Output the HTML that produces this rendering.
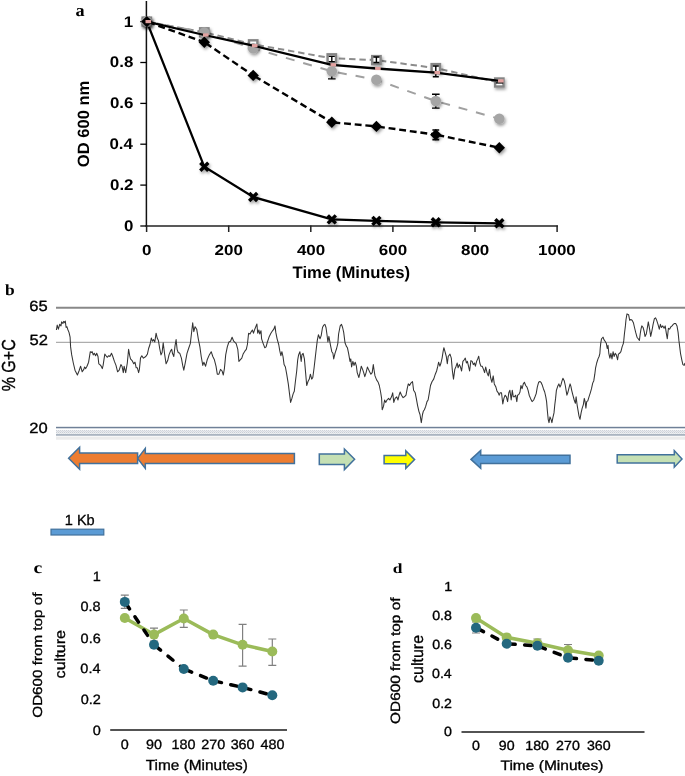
<!DOCTYPE html>
<html><head><meta charset="utf-8"><style>
html,body{margin:0;padding:0;background:#fff;}
body{width:685px;height:776px;overflow:hidden;font-family:"Liberation Sans",sans-serif;}
svg{display:block;will-change:transform;text-rendering:geometricPrecision;}
</style></head><body>
<svg width="685" height="776" viewBox="0 0 685 776">
<defs>
<filter id="sh" x="-50%" y="-50%" width="200%" height="200%"><feDropShadow dx="1.2" dy="2" stdDeviation="1.4" flood-color="#000" flood-opacity="0.38"/></filter>
<pattern id="hatch" x="56" y="430.1" width="2" height="2" patternUnits="userSpaceOnUse"><rect width="2" height="2" fill="#eceef1"/><rect width="1" height="1" fill="#c6cbd3"/><rect x="1" y="1" width="1" height="1" fill="#d3d7dd"/></pattern>
</defs>
<rect width="685" height="776" fill="#fff"/>
<g id="pa">
<line x1="146.4" y1="1" x2="146.4" y2="226.8" stroke="#111" stroke-width="1.5"/>
<line x1="145.6" y1="226.0" x2="557.9" y2="226.0" stroke="#222" stroke-width="1.7"/>
<line x1="140.3" y1="226.0" x2="146.6" y2="226.0" stroke="#000" stroke-width="1.3"/>
<line x1="140.3" y1="185.1" x2="146.6" y2="185.1" stroke="#000" stroke-width="1.3"/>
<line x1="140.3" y1="144.2" x2="146.6" y2="144.2" stroke="#000" stroke-width="1.3"/>
<line x1="140.3" y1="103.4" x2="146.6" y2="103.4" stroke="#000" stroke-width="1.3"/>
<line x1="140.3" y1="62.5" x2="146.6" y2="62.5" stroke="#000" stroke-width="1.3"/>
<line x1="140.3" y1="21.6" x2="146.6" y2="21.6" stroke="#000" stroke-width="1.3"/>
<line x1="146.6" y1="225.5" x2="146.6" y2="232" stroke="#222" stroke-width="1.5"/>
<line x1="228.7" y1="225.5" x2="228.7" y2="232" stroke="#222" stroke-width="1.5"/>
<line x1="310.8" y1="225.5" x2="310.8" y2="232" stroke="#222" stroke-width="1.5"/>
<line x1="392.9" y1="225.5" x2="392.9" y2="232" stroke="#222" stroke-width="1.5"/>
<line x1="475.0" y1="225.5" x2="475.0" y2="232" stroke="#222" stroke-width="1.5"/>
<line x1="557.1" y1="225.5" x2="557.1" y2="232" stroke="#222" stroke-width="1.5"/>
<text transform="translate(124.10,230.90) scale(1.1004,1)" font-family="Liberation Sans" font-weight="bold" font-size="15.35" fill="#000">0</text>
<text transform="translate(109.99,190.02) scale(1.1004,1)" font-family="Liberation Sans" font-weight="bold" font-size="15.35" fill="#000">0.2</text>
<text transform="translate(109.40,149.14) scale(1.1004,1)" font-family="Liberation Sans" font-weight="bold" font-size="15.35" fill="#000">0.4</text>
<text transform="translate(109.91,108.26) scale(1.1004,1)" font-family="Liberation Sans" font-weight="bold" font-size="15.35" fill="#000">0.6</text>
<text transform="translate(109.82,67.38) scale(1.1004,1)" font-family="Liberation Sans" font-weight="bold" font-size="15.35" fill="#000">0.8</text>
<text transform="translate(123.85,26.50) scale(1.1004,1)" font-family="Liberation Sans" font-weight="bold" font-size="15.35" fill="#000">1</text>
<text transform="translate(141.89,255.40) scale(1.1593,1)" font-family="Liberation Sans" font-weight="bold" font-size="14.65" fill="#000">0</text>
<text transform="translate(214.61,255.40) scale(1.1593,1)" font-family="Liberation Sans" font-weight="bold" font-size="14.65" fill="#000">200</text>
<text transform="translate(296.88,255.40) scale(1.1593,1)" font-family="Liberation Sans" font-weight="bold" font-size="14.65" fill="#000">400</text>
<text transform="translate(378.81,255.40) scale(1.1593,1)" font-family="Liberation Sans" font-weight="bold" font-size="14.65" fill="#000">600</text>
<text transform="translate(460.95,255.40) scale(1.1593,1)" font-family="Liberation Sans" font-weight="bold" font-size="14.65" fill="#000">800</text>
<text transform="translate(538.00,255.40) scale(1.1593,1)" font-family="Liberation Sans" font-weight="bold" font-size="14.65" fill="#000">1000</text>
<text transform="translate(292.53,277.80) scale(1.0021,1)" font-family="Liberation Sans" font-weight="bold" font-size="16.68" fill="#000">Time (Minutes)</text>
<text transform="translate(88.94,167.26) rotate(-90) scale(1.0149,1)" font-family="Liberation Sans" font-weight="bold" font-size="16.34" fill="#000">OD 600 nm</text>
<text transform="translate(75.45,16.43) scale(1.0678,1)" font-family="Liberation Serif" font-weight="bold" font-size="17.08" fill="#000">a</text>
<polyline points="146.8,21.6 204.3,166.8 253.2,197.0 331.8,219.4 376.4,220.9 435.8,222.3 499.3,223.3" fill="none" stroke="#000" stroke-width="2.3"/>
<g filter="url(#sh)">
<path d="M142.8 17.6 L150.8 25.6 M150.8 17.6 L142.8 25.6" stroke="#000" stroke-width="3.4"/>
<path d="M200.3 162.8 L208.3 170.8 M208.3 162.8 L200.3 170.8" stroke="#000" stroke-width="3.4"/>
<path d="M249.2 193.0 L257.2 201.0 M257.2 193.0 L249.2 201.0" stroke="#000" stroke-width="3.4"/>
<path d="M327.8 215.4 L335.8 223.4 M335.8 215.4 L327.8 223.4" stroke="#000" stroke-width="3.4"/>
<path d="M372.4 216.9 L380.4 224.9 M380.4 216.9 L372.4 224.9" stroke="#000" stroke-width="3.4"/>
<path d="M431.8 218.3 L439.8 226.3 M439.8 218.3 L431.8 226.3" stroke="#000" stroke-width="3.4"/>
<path d="M495.3 219.3 L503.3 227.3 M503.3 219.3 L495.3 227.3" stroke="#000" stroke-width="3.4"/>
</g>
<polyline points="146.8,21.6 204.3,32.3 253.2,44.3 331.8,58.3 376.4,60.1 435.8,68.1 499.3,82.5" fill="none" stroke="#8c8c8c" stroke-width="2" stroke-dasharray="6.4 3.9"/>
<g filter="url(#sh)">
<rect x="142.6" y="17.6" width="8.4" height="8.0" fill="#fff" stroke="#858585" stroke-width="2.4"/>
<rect x="200.1" y="28.3" width="8.4" height="8.0" fill="#fff" stroke="#858585" stroke-width="2.4"/>
<rect x="249.0" y="40.3" width="8.4" height="8.0" fill="#fff" stroke="#858585" stroke-width="2.4"/>
<rect x="327.6" y="54.3" width="8.4" height="8.0" fill="#fff" stroke="#858585" stroke-width="2.4"/>
<rect x="372.2" y="56.1" width="8.4" height="8.0" fill="#fff" stroke="#858585" stroke-width="2.4"/>
<rect x="431.6" y="64.1" width="8.4" height="8.0" fill="#fff" stroke="#858585" stroke-width="2.4"/>
<rect x="495.1" y="78.5" width="8.4" height="8.0" fill="#fff" stroke="#858585" stroke-width="2.4"/>
</g>
<path d="M331.8 56.4 V61.6 M328.8 56.4 H334.8 M328.8 61.6 H334.8" stroke="#000" stroke-width="1.4" fill="none"/>
<path d="M376.4 57.0 V62.5 M373.4 57.0 H379.4 M373.4 62.5 H379.4" stroke="#000" stroke-width="1.4" fill="none"/>
<path d="M435.8 66.0 V76.7 M432.8 66.0 H438.8 M432.8 76.7 H438.8" stroke="#000" stroke-width="1.4" fill="none"/>
<path d="M495.8 82.9 H503.2" stroke="#000" stroke-width="1.4"/>
<polyline points="146.8,21.6 204.3,32.5 253.2,48.3 331.8,71.3 376.4,79.8 435.8,101.1 499.3,118.8" fill="none" stroke="#a0a0a0" stroke-width="2" stroke-dasharray="9 9"/>
<path d="M331.8 70 V78.9 M328.0 70 H335.6 M328.0 78.9 H335.6" stroke="#000" stroke-width="1.4" fill="none"/>
<path d="M435.8 94.2 V108.1 M432.0 94.2 H439.6 M432.0 108.1 H439.6" stroke="#000" stroke-width="1.4" fill="none"/>
<g filter="url(#sh)">
<circle cx="146.8" cy="21.6" r="5.3" fill="#a5a5a5"/>
<circle cx="204.3" cy="32.5" r="5.3" fill="#a5a5a5"/>
<circle cx="253.2" cy="48.3" r="5.3" fill="#a5a5a5"/>
<circle cx="331.8" cy="71.3" r="5.3" fill="#a5a5a5"/>
<circle cx="376.4" cy="79.8" r="5.3" fill="#a5a5a5"/>
<circle cx="435.8" cy="101.1" r="5.3" fill="#a5a5a5"/>
<circle cx="499.3" cy="118.8" r="5.3" fill="#a5a5a5"/>
</g>
<line x1="146.8" y1="21.6" x2="204.3" y2="42.2" stroke="#000" stroke-width="2.4" stroke-dasharray="6.9 3.8" stroke-dashoffset="-1.6"/>
<line x1="204.3" y1="42.2" x2="253.2" y2="75.4" stroke="#000" stroke-width="2.4" stroke-dasharray="6.9 3.8" stroke-dashoffset="-1.6"/>
<line x1="253.2" y1="75.4" x2="331.8" y2="122.3" stroke="#000" stroke-width="2.4" stroke-dasharray="6.9 3.8" stroke-dashoffset="-1.6"/>
<line x1="331.8" y1="122.3" x2="376.4" y2="126.4" stroke="#000" stroke-width="2.4" stroke-dasharray="6.9 3.8" stroke-dashoffset="-1.6"/>
<line x1="376.4" y1="126.4" x2="435.8" y2="134.7" stroke="#000" stroke-width="2.4" stroke-dasharray="6.9 3.8" stroke-dashoffset="-1.6"/>
<line x1="435.8" y1="134.7" x2="499.3" y2="147.7" stroke="#000" stroke-width="2.4" stroke-dasharray="6.9 3.8" stroke-dashoffset="-1.6"/>
<path d="M435.8 130.0 V139.6 M432.4 130.0 H439.2 M432.4 139.6 H439.2" stroke="#000" stroke-width="1.6" fill="none"/>
<g filter="url(#sh)">
<path d="M146.8 15.9 L152.5 21.6 L146.8 27.3 L141.1 21.6Z" fill="#000"/>
<path d="M204.3 36.5 L210.0 42.2 L204.3 47.9 L198.6 42.2Z" fill="#000"/>
<path d="M253.2 69.7 L258.9 75.4 L253.2 81.1 L247.5 75.4Z" fill="#000"/>
<path d="M331.8 116.6 L337.5 122.3 L331.8 128.0 L326.1 122.3Z" fill="#000"/>
<path d="M376.4 120.7 L382.1 126.4 L376.4 132.1 L370.7 126.4Z" fill="#000"/>
<path d="M435.8 129.0 L441.5 134.7 L435.8 140.4 L430.1 134.7Z" fill="#000"/>
<path d="M499.3 142.0 L505.0 147.7 L499.3 153.4 L493.6 147.7Z" fill="#000"/>
</g>
<polyline points="146.8,21.6 204.3,35.0 253.2,45.7 331.8,64.8 376.4,68.5 435.8,72.6 499.3,80.9" fill="none" stroke="#000" stroke-width="2.3"/>
<rect x="145.5" y="20.0" width="5.6" height="3.2" fill="#e3a19f"/>
<rect x="203.0" y="33.4" width="5.6" height="3.2" fill="#e3a19f"/>
<rect x="251.9" y="44.1" width="5.6" height="3.2" fill="#e3a19f"/>
<rect x="330.5" y="63.2" width="5.6" height="3.2" fill="#e3a19f"/>
<rect x="375.1" y="66.9" width="5.6" height="3.2" fill="#e3a19f"/>
<rect x="434.5" y="71.0" width="5.6" height="3.2" fill="#e3a19f"/>
<rect x="498.0" y="79.3" width="5.6" height="3.2" fill="#e3a19f"/>
</g>
<g id="pb">
<text transform="translate(5.04,295.24) scale(1.1152,1)" font-family="Liberation Serif" font-weight="bold" font-size="15.60" fill="#000">b</text>
<line x1="56" y1="307.7" x2="685" y2="307.7" stroke="#888" stroke-width="1.9"/>
<line x1="56" y1="342.3" x2="685" y2="342.3" stroke="#999" stroke-width="1"/>
<rect x="56" y="426.8" width="629" height="1.5" fill="#6f8097"/>
<rect x="56" y="430.1" width="629" height="3.6" fill="url(#hatch)"/>
<rect x="56" y="434" width="629" height="1.8" fill="#aab4c0"/>
<rect x="56" y="436.6" width="629" height="3.1" fill="#ececec"/>
<text transform="translate(29.27,311.20) scale(1.1204,1)" font-family="Liberation Sans" font-weight="normal" font-size="14.79" fill="#000" stroke="#000" stroke-width="0.32">65</text>
<text transform="translate(29.44,345.20) scale(1.1204,1)" font-family="Liberation Sans" font-weight="normal" font-size="14.79" fill="#000" stroke="#000" stroke-width="0.32">52</text>
<text transform="translate(29.27,433.20) scale(1.1204,1)" font-family="Liberation Sans" font-weight="normal" font-size="14.79" fill="#000" stroke="#000" stroke-width="0.32">20</text>
<text transform="translate(15.11,391.36) rotate(-90) scale(0.8511,1)" font-family="Liberation Sans" font-weight="normal" font-size="18.87" fill="#000" stroke="#000" stroke-width="0.32">% G+C</text>
<polyline points="56.4,330.0 57.2,325.1 58.4,329.2 59.7,324.3 61.0,325.9 61.6,321.9 62.9,323.5 63.7,321.4 64.8,322.7 65.3,321.1 66.1,327.5 66.9,326.7 67.7,329.2 69.0,332.4 70.1,337.2 70.6,346.9 71.7,354.9 73.3,363.0 75.0,370.2 77.4,375.0 79.0,371.0 80.6,366.2 82.2,371.8 83.8,369.4 84.6,367.0 85.7,368.6 87.0,366.2 88.6,362.2 90.3,351.7 91.5,352.5 92.2,351.7 93.2,354.9 94.3,353.3 95.6,355.7 96.7,353.3 98.0,356.5 98.8,363.8 99.9,364.6 101.2,366.2 102.3,368.6 103.1,365.4 104.8,354.1 106.0,355.7 107.2,357.3 108.8,355.7 109.9,356.5 111.5,353.3 112.8,356.5 114.4,361.4 116.0,365.4 117.6,371.8 119.2,370.2 120.9,364.6 122.0,366.2 123.3,372.6 124.1,366.2 125.7,372.6 127.3,363.0 128.6,349.3 129.7,355.7 130.5,358.9 132.1,360.6 133.7,363.8 135.0,362.2 136.2,367.8 137.4,367.8 138.6,372.6 139.4,369.4 140.5,358.1 141.8,355.7 143.4,358.1 145.8,356.5 147.4,354.1 148.6,348.5 150.0,344.5 151.3,338.0 152.4,341.2 153.5,339.6 154.8,342.0 156.1,333.2 157.2,338.0 158.4,340.4 159.7,348.5 161.0,354.9 162.1,352.5 163.2,342.8 164.5,353.3 166.1,363.8 167.7,360.6 169.0,354.9 170.6,350.9 171.7,349.3 172.5,353.3 173.8,356.5 175.0,346.1 176.1,339.6 177.1,349.3 178.2,352.5 179.8,353.3 181.4,358.1 182.7,365.4 183.8,370.2 185.4,362.2 187.0,353.3 188.6,348.5 190.3,343.6 191.5,333.2 192.7,322.7 193.8,331.6 195.1,326.7 196.7,329.2 198.3,338.8 199.9,346.9 201.2,356.5 202.8,365.4 203.9,362.2 205.6,366.2 207.2,359.8 209.3,354.9 211.2,351.7 212.8,356.5 214.4,359.8 216.0,366.2 217.3,374.2 218.9,374.2 220.5,369.4 222.1,371.0 223.3,375.0 224.4,368.6 225.7,354.9 227.3,346.9 228.9,342.0 230.5,341.2 232.1,337.2 233.7,341.2 236.2,343.6 237.8,349.3 238.9,361.4 240.2,359.8 241.8,358.1 243.1,354.1 245.0,350.9 246.3,349.3 247.4,344.5 248.6,333.2 250.0,334.0 251.3,331.6 252.4,330.0 253.5,333.2 254.8,329.2 256.1,325.9 256.9,324.0 257.7,333.2 258.9,330.0 259.7,334.0 261.0,330.8 261.6,338.8 263.2,343.6 264.8,347.7 266.1,346.9 267.4,342.0 269.3,336.4 270.9,333.2 272.5,330.8 273.8,329.2 275.0,325.9 275.8,332.4 277.1,338.8 278.7,344.5 279.8,350.9 280.9,355.7 281.9,351.7 283.0,356.5 284.1,364.6 285.4,367.0 286.7,374.2 288.3,383.9 289.5,393.6 290.6,402.4 291.9,398.4 293.2,393.6 294.3,391.2 295.4,381.5 296.7,371.0 297.7,359.8 298.6,354.9 299.9,351.7 301.2,361.4 301.9,354.9 303.1,353.3 304.4,358.9 305.6,372.6 306.7,385.5 308.0,381.5 309.3,379.1 310.4,374.2 311.7,379.1 312.8,377.5 314.1,367.8 315.2,358.1 316.3,348.5 317.3,340.4 318.4,334.8 320.0,338.8 321.2,335.6 322.5,327.5 323.8,325.1 324.9,324.3 326.0,327.5 327.0,334.8 327.9,342.0 328.9,336.4 330.5,345.3 331.8,351.7 332.9,353.3 333.7,358.9 335.0,353.3 336.6,348.5 337.8,343.6 338.6,334.0 340.2,325.9 341.5,324.3 342.6,327.5 343.7,332.4 345.0,342.8 346.3,346.1 347.4,347.7 348.6,353.3 350.0,361.4 350.8,358.9 351.6,367.0 352.9,361.4 354.0,365.4 355.2,362.2 356.4,366.2 357.2,372.6 358.9,377.5 360.0,372.6 361.3,366.2 362.6,369.4 363.7,372.6 364.8,376.7 366.1,372.6 367.4,367.0 368.5,369.4 369.6,371.8 370.9,374.2 372.2,372.6 373.3,364.6 374.2,371.0 375.0,375.9 376.6,379.9 378.2,382.3 379.3,385.5 380.6,392.0 381.6,398.4 382.2,409.7 383.5,406.4 384.6,400.0 385.7,402.4 387.0,400.0 388.6,398.4 389.9,400.0 391.5,396.8 392.7,392.8 393.8,402.4 395.1,398.4 396.7,396.8 398.0,400.0 399.1,395.2 400.2,392.0 401.5,395.2 403.1,397.6 404.4,396.8 406.0,395.2 407.2,388.7 408.3,383.9 409.6,385.5 410.9,383.1 412.5,381.5 413.6,390.3 415.2,392.8 416.3,398.4 417.6,405.6 418.9,411.3 420.0,414.5 421.3,422.6 422.5,414.5 423.3,411.3 424.4,409.7 425.7,406.4 427.0,401.6 428.1,400.0 429.2,393.6 430.5,385.5 432.1,381.5 433.7,379.1 435.3,374.2 436.6,371.0 437.8,366.2 438.6,362.2 439.9,366.2 441.0,363.0 442.1,358.1 443.1,351.7 443.9,347.7 445.0,351.7 446.3,356.5 447.3,363.8 448.2,356.5 450.0,354.1 451.3,358.1 452.4,371.0 453.5,379.1 454.8,369.4 456.1,366.2 457.2,363.0 458.1,367.8 459.3,364.6 460.5,367.0 461.6,371.0 462.9,361.4 464.2,359.8 465.3,358.1 466.4,363.0 467.4,361.4 468.5,366.2 469.6,371.0 470.9,360.6 472.2,361.4 473.3,364.6 474.5,363.0 475.4,366.2 476.6,361.4 477.7,358.9 478.7,356.2 479.8,363.0 480.9,366.2 482.2,366.2 483.5,369.4 484.6,372.6 485.7,367.0 487.0,372.6 488.3,375.9 489.5,369.4 490.6,377.5 491.9,382.3 493.2,375.9 494.3,383.9 495.9,387.1 497.0,391.2 498.3,392.8 499.1,395.2 500.2,392.8 501.5,392.8 502.8,404.0 503.9,398.4 505.1,395.2 506.4,396.8 507.6,401.6 508.8,392.8 509.9,390.3 511.2,400.0 512.3,390.3 513.3,396.8 514.4,396.8 515.7,395.2 516.8,401.6 517.6,395.2 518.9,394.4 520.0,392.0 520.9,385.5 522.1,388.7 523.3,383.9 524.4,382.3 525.7,385.5 527.0,387.1 528.1,390.3 529.2,395.2 530.5,398.4 532.1,401.6 533.7,400.0 535.0,396.8 536.2,393.6 537.3,387.1 538.6,382.3 539.9,381.5 541.0,382.3 542.1,384.7 543.4,388.7 544.7,392.0 545.8,396.8 546.6,401.6 547.4,411.3 548.2,419.3 549.0,422.6 550.0,416.9 551.3,420.1 551.9,422.6 552.9,417.7 554.0,412.9 554.8,404.8 555.6,398.4 556.4,390.3 557.7,386.3 558.9,383.9 560.0,387.1 561.0,384.7 562.1,380.7 562.9,378.3 564.2,380.7 565.3,385.5 566.1,390.3 566.9,395.2 568.0,392.0 569.0,387.9 570.1,383.9 570.9,386.3 571.7,390.3 572.9,395.2 574.2,400.0 575.4,403.2 576.1,396.8 577.1,404.8 578.2,411.3 579.0,416.1 580.0,419.3 581.1,412.9 582.2,408.1 583.3,404.8 584.3,398.4 585.1,401.6 585.9,408.1 586.7,401.6 587.8,400.8 589.0,396.8 590.3,392.8 591.5,388.7 592.7,383.1 593.8,380.7 594.8,374.2 595.6,367.8 596.7,363.0 598.0,358.9 599.1,356.5 599.9,353.3 600.2,348.5 600.7,343.6 601.5,338.8 602.3,338.0 603.1,337.2 603.9,339.6 605.1,341.2 606.4,343.6 607.2,348.5 608.0,345.3 608.8,353.3 609.9,358.1 610.9,353.3 612.0,358.9 613.1,351.7 614.1,356.5 615.2,353.3 616.3,354.9 617.6,359.8 618.4,354.1 619.6,353.3 620.9,351.7 622.1,346.9 623.3,343.6 623.8,340.4 624.4,334.0 625.4,325.9 626.0,319.5 627.0,313.9 628.6,314.7 629.7,320.3 630.8,319.5 632.1,320.3 633.4,322.7 634.5,327.5 635.7,332.4 637.0,337.2 638.2,338.8 639.4,340.4 640.2,334.0 641.0,329.2 641.8,325.9 643.1,327.5 644.2,331.6 645.0,336.4 646.3,334.0 647.4,327.5 648.3,321.9 649.6,329.2 650.7,336.4 651.9,330.8 653.1,324.3 654.4,318.7 655.6,317.9 656.7,320.3 658.0,324.3 659.3,329.2 660.4,324.3 661.5,327.5 662.8,325.9 664.1,328.3 665.2,325.9 666.3,333.2 667.3,338.8 668.4,328.3 669.6,329.2 670.9,326.7 672.1,325.9 673.3,324.3 674.4,323.5 675.7,323.5 677.0,325.9 678.1,332.4 678.9,340.4 679.7,346.9 680.5,353.3 681.8,359.8 682.9,364.6 684.1,365.4 685.0,363.0" fill="none" stroke="#333" stroke-width="1.05" stroke-linejoin="round"/>
<path d="M137.6 458.4 L145.3 448.4 L145.3 453.4 L294.4 453.4 L294.4 463.4 L145.3 463.4 L145.3 468.4 Z" fill="#ed7d31" stroke="#41719c" stroke-width="1.5" stroke-linejoin="miter"/>
<path d="M68.6 458.2 L79.6 447.2 L79.6 452.9 L137.6 452.9 L137.6 463.5 L79.6 463.5 L79.6 469.2 Z" fill="#ed7d31" stroke="#41719c" stroke-width="1.5" stroke-linejoin="miter"/>
<path d="M354.6 459.3 L344.4 449.0 L344.4 454.1 L319.3 454.1 L319.3 464.5 L344.4 464.5 L344.4 469.6 Z" fill="#c5e0b4" stroke="#41719c" stroke-width="1.5" stroke-linejoin="miter"/>
<path d="M414.6 459.6 L405.8 450.8 L405.8 455.40000000000003 L384.1 455.40000000000003 L384.1 463.8 L405.8 463.8 L405.8 468.40000000000003 Z" fill="#ffff00" stroke="#41719c" stroke-width="1.5" stroke-linejoin="miter"/>
<path d="M471 459.4 L480.7 450.4 L480.7 455.2 L570 455.2 L570 463.59999999999997 L480.7 463.59999999999997 L480.7 468.4 Z" fill="#5b9bd5" stroke="#41719c" stroke-width="1.5" stroke-linejoin="miter"/>
<path d="M682 458.9 L674.3 450.59999999999997 L674.3 454.7 L617.2 454.7 L617.2 463.09999999999997 L674.3 463.09999999999997 L674.3 467.2 Z" fill="#c5e0b4" stroke="#41719c" stroke-width="1.5" stroke-linejoin="miter"/>
<text transform="translate(64.81,524.65) scale(0.9893,1)" font-family="Liberation Sans" font-weight="normal" font-size="14.69" fill="#000" stroke="#000" stroke-width="0.32">1 Kb</text>
<rect x="51" y="529.2" width="52.8" height="5.8" fill="#5b9bd5" stroke="#41719c" stroke-width="1.2"/>
</g>
<text transform="translate(33.61,572.84) scale(1.2148,1)" font-family="Liberation Serif" font-weight="bold" font-size="16.25" fill="#000">c</text>
<text transform="translate(92.78,580.80) scale(1.0727,1)" font-family="Liberation Sans" font-weight="normal" font-size="13.52" fill="#000" stroke="#000" stroke-width="0.32">1</text>
<text transform="translate(80.52,611.20) scale(1.0727,1)" font-family="Liberation Sans" font-weight="normal" font-size="13.52" fill="#000" stroke="#000" stroke-width="0.32">0.8</text>
<text transform="translate(80.59,642.50) scale(1.0727,1)" font-family="Liberation Sans" font-weight="normal" font-size="13.52" fill="#000" stroke="#000" stroke-width="0.32">0.6</text>
<text transform="translate(80.37,673.30) scale(1.0727,1)" font-family="Liberation Sans" font-weight="normal" font-size="13.52" fill="#000" stroke="#000" stroke-width="0.32">0.4</text>
<text transform="translate(80.66,704.40) scale(1.0727,1)" font-family="Liberation Sans" font-weight="normal" font-size="13.52" fill="#000" stroke="#000" stroke-width="0.32">0.2</text>
<text transform="translate(92.63,734.90) scale(1.0727,1)" font-family="Liberation Sans" font-weight="normal" font-size="13.52" fill="#000" stroke="#000" stroke-width="0.32">0</text>
<line x1="110.2" y1="730" x2="287" y2="730" stroke="#1a1a1a" stroke-width="1.7"/>
<text transform="translate(120.81,748.90) scale(1.0632,1)" font-family="Liberation Sans" font-weight="normal" font-size="13.52" fill="#000" stroke="#000" stroke-width="0.32">0</text>
<text transform="translate(145.99,748.90) scale(1.0632,1)" font-family="Liberation Sans" font-weight="normal" font-size="13.52" fill="#000" stroke="#000" stroke-width="0.32">90</text>
<text transform="translate(171.58,748.90) scale(1.0632,1)" font-family="Liberation Sans" font-weight="normal" font-size="13.52" fill="#000" stroke="#000" stroke-width="0.32">180</text>
<text transform="translate(201.16,748.90) scale(1.0632,1)" font-family="Liberation Sans" font-weight="normal" font-size="13.52" fill="#000" stroke="#000" stroke-width="0.32">270</text>
<text transform="translate(230.63,748.90) scale(1.0632,1)" font-family="Liberation Sans" font-weight="normal" font-size="13.52" fill="#000" stroke="#000" stroke-width="0.32">360</text>
<text transform="translate(260.44,748.90) scale(1.0632,1)" font-family="Liberation Sans" font-weight="normal" font-size="13.52" fill="#000" stroke="#000" stroke-width="0.32">480</text>
<text transform="translate(145.71,769.92) scale(1.0521,1)" font-family="Liberation Sans" font-weight="normal" font-size="14.65" fill="#000" stroke="#000" stroke-width="0.32">Time (Minutes)</text>
<text transform="translate(41.94,717.68) rotate(-90) scale(1.1553,1)" font-family="Liberation Sans" font-weight="normal" font-size="13.16" fill="#000" stroke="#000" stroke-width="0.32">OD600 from top of</text>
<text transform="translate(64.55,678.43) rotate(-90) scale(1.1095,1)" font-family="Liberation Sans" font-weight="normal" font-size="14.56" fill="#000" stroke="#000" stroke-width="0.32">culture</text>
<path d="M154.0 628.2 V641.0 M150.0 628.2 H158.0 M150.0 641.0 H158.0" stroke="#808080" stroke-width="1.2" fill="none"/>
<path d="M183.8 610.0 V627.3 M179.8 610.0 H187.8 M179.8 627.3 H187.8" stroke="#808080" stroke-width="1.2" fill="none"/>
<path d="M242.6 624.4 V666.1 M238.6 624.4 H246.6 M238.6 666.1 H246.6" stroke="#808080" stroke-width="1.2" fill="none"/>
<path d="M272.3 639.0 V665.3 M268.3 639.0 H276.3 M268.3 665.3 H276.3" stroke="#808080" stroke-width="1.2" fill="none"/>
<path d="M124.8 595.2 V608.3 M120.8 595.2 H128.8 M120.8 608.3 H128.8" stroke="#808080" stroke-width="1.2" fill="none"/>
<polyline points="124.8,618.0 154.0,634.6 183.8,618.5 213.2,634.6 242.6,644.8 272.3,651.5" fill="none" stroke="#9bbb59" stroke-width="3.5" stroke-linejoin="round"/>
<line x1="124.8" y1="601.9" x2="154.0" y2="644.8" stroke="#000" stroke-width="3.5" stroke-linecap="round" stroke-dasharray="6.5 9.5" stroke-dashoffset="-2"/>
<line x1="154.0" y1="644.8" x2="183.8" y2="669.0" stroke="#000" stroke-width="3.5" stroke-linecap="round" stroke-dasharray="6.5 9.5" stroke-dashoffset="-2"/>
<line x1="183.8" y1="669.0" x2="213.2" y2="680.7" stroke="#000" stroke-width="3.5" stroke-linecap="round" stroke-dasharray="6.5 9.5" stroke-dashoffset="-2"/>
<line x1="213.2" y1="680.7" x2="242.6" y2="687.4" stroke="#000" stroke-width="3.5" stroke-linecap="round" stroke-dasharray="6.5 9.5" stroke-dashoffset="-2"/>
<line x1="242.6" y1="687.4" x2="272.3" y2="695.3" stroke="#000" stroke-width="3.5" stroke-linecap="round" stroke-dasharray="6.5 9.5" stroke-dashoffset="-2"/>
<circle cx="124.8" cy="618.0" r="5" fill="#9bbb59"/>
<circle cx="154.0" cy="634.6" r="5" fill="#9bbb59"/>
<circle cx="183.8" cy="618.5" r="5" fill="#9bbb59"/>
<circle cx="213.2" cy="634.6" r="5" fill="#9bbb59"/>
<circle cx="242.6" cy="644.8" r="5" fill="#9bbb59"/>
<circle cx="272.3" cy="651.5" r="5" fill="#9bbb59"/>
<circle cx="124.8" cy="601.9" r="5" fill="#24687f"/>
<circle cx="154.0" cy="644.8" r="5" fill="#24687f"/>
<circle cx="183.8" cy="669.0" r="5" fill="#24687f"/>
<circle cx="213.2" cy="680.7" r="5" fill="#24687f"/>
<circle cx="242.6" cy="687.4" r="5" fill="#24687f"/>
<circle cx="272.3" cy="695.3" r="5" fill="#24687f"/>
<text transform="translate(392.80,572.86) scale(1.2536,1)" font-family="Liberation Serif" font-weight="bold" font-size="13.90" fill="#000">d</text>
<text transform="translate(444.13,590.80) scale(1.0724,1)" font-family="Liberation Sans" font-weight="normal" font-size="13.24" fill="#000" stroke="#000" stroke-width="0.32">1</text>
<text transform="translate(432.13,620.00) scale(1.0724,1)" font-family="Liberation Sans" font-weight="normal" font-size="13.24" fill="#000" stroke="#000" stroke-width="0.32">0.8</text>
<text transform="translate(432.20,649.00) scale(1.0724,1)" font-family="Liberation Sans" font-weight="normal" font-size="13.24" fill="#000" stroke="#000" stroke-width="0.32">0.6</text>
<text transform="translate(431.99,678.40) scale(1.0724,1)" font-family="Liberation Sans" font-weight="normal" font-size="13.24" fill="#000" stroke="#000" stroke-width="0.32">0.4</text>
<text transform="translate(432.27,707.50) scale(1.0724,1)" font-family="Liberation Sans" font-weight="normal" font-size="13.24" fill="#000" stroke="#000" stroke-width="0.32">0.2</text>
<text transform="translate(443.99,736.10) scale(1.0724,1)" font-family="Liberation Sans" font-weight="normal" font-size="13.24" fill="#000" stroke="#000" stroke-width="0.32">0</text>
<line x1="461.5" y1="732" x2="644.5" y2="732" stroke="#1a1a1a" stroke-width="1.7"/>
<text transform="translate(472.06,749.50) scale(1.0722,1)" font-family="Liberation Sans" font-weight="normal" font-size="13.24" fill="#000" stroke="#000" stroke-width="0.32">0</text>
<text transform="translate(498.79,749.50) scale(1.0722,1)" font-family="Liberation Sans" font-weight="normal" font-size="13.24" fill="#000" stroke="#000" stroke-width="0.32">90</text>
<text transform="translate(525.33,749.50) scale(1.0722,1)" font-family="Liberation Sans" font-weight="normal" font-size="13.24" fill="#000" stroke="#000" stroke-width="0.32">180</text>
<text transform="translate(556.11,749.50) scale(1.0722,1)" font-family="Liberation Sans" font-weight="normal" font-size="13.24" fill="#000" stroke="#000" stroke-width="0.32">270</text>
<text transform="translate(586.88,749.50) scale(1.0722,1)" font-family="Liberation Sans" font-weight="normal" font-size="13.24" fill="#000" stroke="#000" stroke-width="0.32">360</text>
<text transform="translate(500.51,769.93) scale(1.1339,1)" font-family="Liberation Sans" font-weight="normal" font-size="13.69" fill="#000" stroke="#000" stroke-width="0.32">Time (Minutes)</text>
<text transform="translate(400.37,723.89) rotate(-90) scale(1.1405,1)" font-family="Liberation Sans" font-weight="normal" font-size="13.48" fill="#000" stroke="#000" stroke-width="0.32">OD600 from top of</text>
<text transform="translate(422.84,682.92) rotate(-90) scale(0.9787,1)" font-family="Liberation Sans" font-weight="normal" font-size="16.33" fill="#000" stroke="#000" stroke-width="0.32">culture</text>
<path d="M537.4 639 V648 M533.4 639 H541.4 M533.4 648 H541.4" stroke="#808080" stroke-width="1.2" fill="none"/>
<path d="M568.0 644.5 V654 M564.0 644.5 H572.0 M564.0 654 H572.0" stroke="#808080" stroke-width="1.2" fill="none"/>
<path d="M476.0 622 V633 M472.0 622 H480.0 M472.0 633 H480.0" stroke="#808080" stroke-width="1.2" fill="none"/>
<polyline points="476.0,618.1 506.7,637.4 537.4,643.2 568.0,650.2 598.7,655.5" fill="none" stroke="#9bbb59" stroke-width="3.5" stroke-linejoin="round"/>
<line x1="476.0" y1="627.7" x2="506.7" y2="643.8" stroke="#000" stroke-width="3.5" stroke-linecap="round" stroke-dasharray="6.5 9.5" stroke-dashoffset="-2"/>
<line x1="506.7" y1="643.8" x2="537.4" y2="645.8" stroke="#000" stroke-width="3.5" stroke-linecap="round" stroke-dasharray="6.5 9.5" stroke-dashoffset="-2"/>
<line x1="537.4" y1="645.8" x2="568.0" y2="657.8" stroke="#000" stroke-width="3.5" stroke-linecap="round" stroke-dasharray="6.5 9.5" stroke-dashoffset="-2"/>
<line x1="568.0" y1="657.8" x2="598.7" y2="660.7" stroke="#000" stroke-width="3.5" stroke-linecap="round" stroke-dasharray="6.5 9.5" stroke-dashoffset="-2"/>
<circle cx="476.0" cy="618.1" r="5" fill="#9bbb59"/>
<circle cx="506.7" cy="637.4" r="5" fill="#9bbb59"/>
<circle cx="537.4" cy="643.2" r="5" fill="#9bbb59"/>
<circle cx="568.0" cy="650.2" r="5" fill="#9bbb59"/>
<circle cx="598.7" cy="655.5" r="5" fill="#9bbb59"/>
<circle cx="476.0" cy="627.7" r="5" fill="#24687f"/>
<circle cx="506.7" cy="643.8" r="5" fill="#24687f"/>
<circle cx="537.4" cy="645.8" r="5" fill="#24687f"/>
<circle cx="568.0" cy="657.8" r="5" fill="#24687f"/>
<circle cx="598.7" cy="660.7" r="5" fill="#24687f"/>
</svg>
</body></html>
